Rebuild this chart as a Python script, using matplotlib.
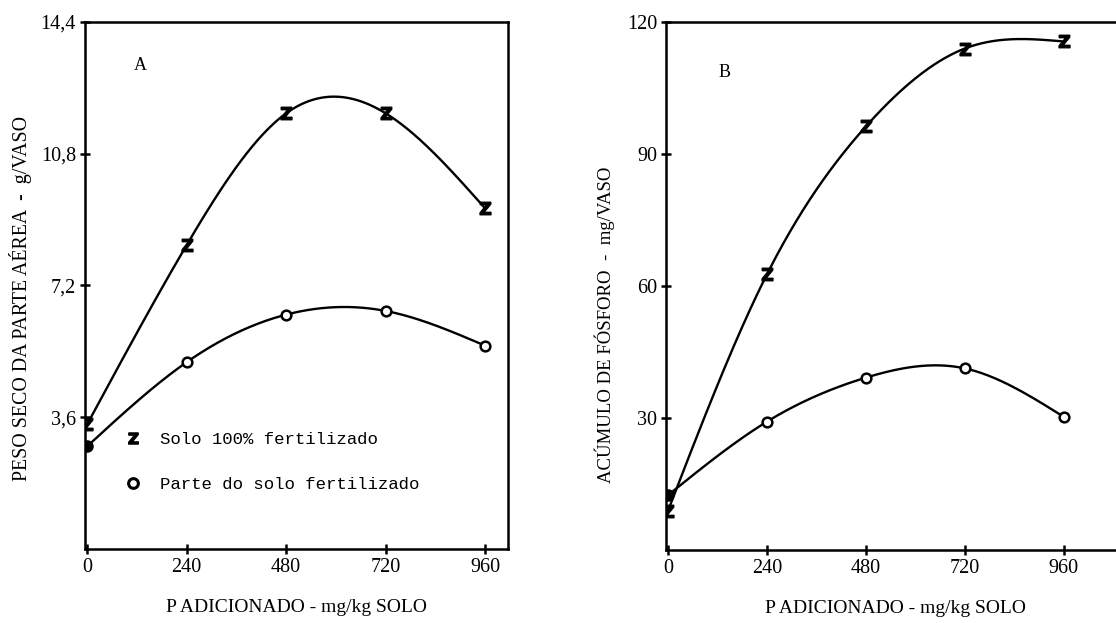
import numpy as np
import matplotlib
matplotlib.use("Agg")
import matplotlib.pyplot as plt
from matplotlib.lines import Line2D

# P added (mg/kg soil)
doses = [0, 240, 480, 720, 960]

# Panel A: dry weight of shoots (g/pot)
a_full = [3.4, 8.3, 11.9, 11.9, 9.3]
a_part = [2.8, 5.1, 6.4, 6.5, 5.55]

# Panel B: phosphorus accumulation (mg/pot)
b_full = [9.0, 62.7, 96.3, 114.0, 115.6]
b_part = [12.5, 29.2, 39.2, 41.3, 30.3]

a_yticks = [3.6, 7.2, 10.8, 14.4]
a_yticklabels = ["3,6", "7,2", "10,8", "14,4"]
b_yticks = [30, 60, 90, 120]
b_yticklabels = ["30", "60", "90", "120"]
xticks = [0, 240, 480, 720, 960]

plt.rcParams["font.family"] = "Liberation Serif"
Z_MARK = r"$\mathbf{Z}$"


def smooth_curve(x, y, n=300):
    # natural cubic spline through the points, like the hand-drawn curves
    x = np.asarray(x, float)
    y = np.asarray(y, float)
    k = len(x)
    h = np.diff(x)
    A = np.zeros((k, k))
    r = np.zeros(k)
    A[0, 0] = A[-1, -1] = 1.0
    for i in range(1, k - 1):
        A[i, i - 1] = h[i - 1]
        A[i, i] = 2 * (h[i - 1] + h[i])
        A[i, i + 1] = h[i]
        r[i] = 6 * ((y[i + 1] - y[i]) / h[i] - (y[i] - y[i - 1]) / h[i - 1])
    m = np.linalg.solve(A, r)
    xs = np.linspace(x[0], x[-1], n)
    idx = np.clip(np.searchsorted(x, xs) - 1, 0, k - 2)
    t0 = x[idx + 1] - xs
    t1 = xs - x[idx]
    hi = h[idx]
    ys = (m[idx] * t0 ** 3 + m[idx + 1] * t1 ** 3) / (6 * hi) \
        + (y[idx] / hi - m[idx] * hi / 6) * t0 \
        + (y[idx + 1] / hi - m[idx + 1] * hi / 6) * t1
    return xs, ys


def draw_panel(ax, full, part, yticks, yticklabels, ylim, xlim, letter, letter_y,
               ylabel, ylabel_xy, ylabel_size):
    for series in (full, part):
        xs, ys = smooth_curve(doses, series)
        ax.plot(xs, ys, color="black", lw=1.7, zorder=2)

    ax.plot(doses, full, linestyle="none", marker=Z_MARK, color="black",
            markersize=9, zorder=3)
    ax.plot(doses[1:], part[1:], linestyle="none", marker="o", mfc="white",
            mec="black", mew=1.8, markersize=7, zorder=3)
    ax.plot(doses[:1], part[:1], linestyle="none", marker="o", color="black",
            markersize=8, zorder=4)

    ax.set_xlim(*xlim)
    ax.set_ylim(*ylim)
    ax.set_xticks(xticks)
    ax.set_xticklabels([str(t) for t in xticks])
    ax.set_yticks(yticks)
    ax.set_yticklabels(yticklabels)
    ax.tick_params(direction="inout", length=7, width=1.8, labelsize=14.5, pad=3)
    for side in ("left", "bottom", "top", "right"):
        ax.spines[side].set_linewidth(1.8)

    ax.text(0.115, letter_y, letter, transform=ax.transAxes, fontsize=13, va="center")
    ax.set_xlabel("P ADICIONADO - mg/kg SOLO", fontsize=14, labelpad=16)
    ax.set_ylabel(ylabel, fontsize=ylabel_size)
    ax.yaxis.set_label_coords(*ylabel_xy)


fig = plt.figure(figsize=(11.16, 6.23), dpi=100)
ax_a = fig.add_axes([0.0762, 0.119, 0.379, 0.846])
ax_b = fig.add_axes([0.5968, 0.117, 0.411, 0.8475])

draw_panel(ax_a, a_full, a_part, a_yticks, a_yticklabels, (0, 14.4), (-5, 1015),
           "A", 0.918, "PESO SECO DA PARTE AÉREA  -  g/VASO", (-0.126, 0.476), 14.3)
draw_panel(ax_b, b_full, b_part, b_yticks, b_yticklabels, (0, 120), (-5, 1108),
           "B", 0.905, "ACÚMULO DE FÓSFORO  -  mg/VASO", (-0.111, 0.426), 13.5)

handles = [
    Line2D([0], [0], linestyle="none", marker=Z_MARK, color="black", markersize=8,
           label="Solo 100% fertilizado"),
    Line2D([0], [0], linestyle="none", marker="o", mfc="white", mec="black",
           mew=2.2, markersize=7, label="Parte do solo fertilizado"),
]
ax_a.legend(handles=handles, loc="upper left", bbox_to_anchor=(0.055, 0.252),
            frameon=False, handletextpad=1.1, labelspacing=1.75, handlelength=1.0,
            prop={"family": "Liberation Mono", "size": 12.5})

fig.savefig("out.png", dpi=100)
